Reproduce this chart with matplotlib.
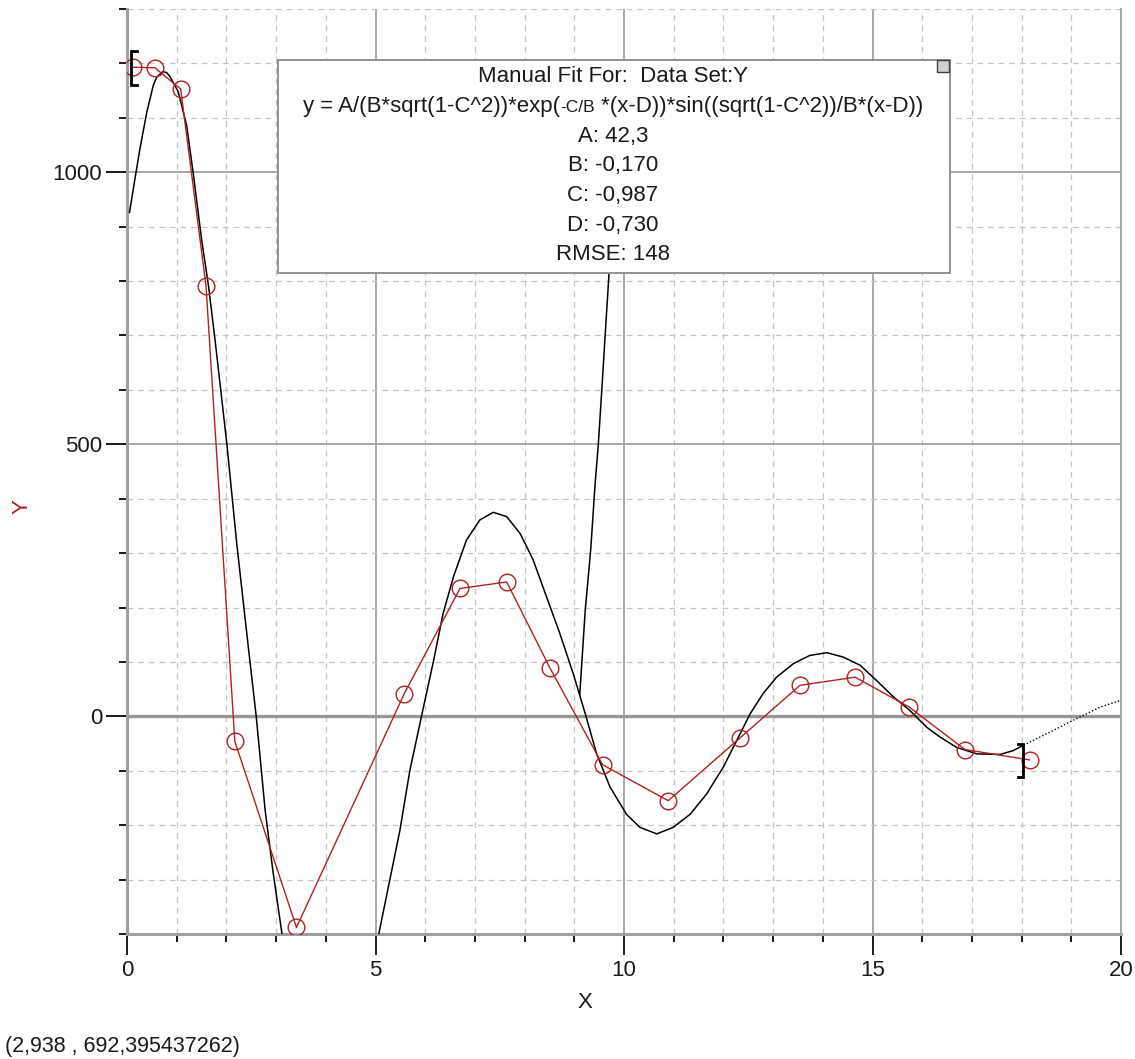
import numpy as np
import matplotlib
matplotlib.use("Agg")
import matplotlib.pyplot as plt
from matplotlib.patches import Rectangle
from matplotlib.ticker import MultipleLocator, FixedLocator
from matplotlib import font_manager

# ---------------- data ----------------
data_x = [0.13, 0.56, 1.08, 1.59, 2.17, 3.41, 5.58, 6.70, 7.64, 8.51, 9.57,
          10.89, 12.33, 13.54, 14.65, 15.74, 16.86, 18.16]
data_y = [1193, 1192, 1153, 791, -46, -388, 42, 235, 247, 89, -89,
          -155, -40, 57, 72, 17, -61, -80]

fit_x = [0.05, 0.16, 0.26, 0.40, 0.53, 0.60, 0.72, 0.80, 0.87, 1.03, 1.20, 1.33, 1.50,
         1.64, 1.77, 2.01, 2.21, 2.44, 2.60, 2.78, 2.94, 3.13, np.nan,
         5.05, 5.49, 5.69, 5.93, 6.17, 6.36, 6.57, 6.83, 7.10, 7.37, 7.64,
         7.91, 8.17, 8.44, 8.71, 8.98, 9.22, 9.45, 9.72, 10.05, 10.32, 10.66,
         10.99, 11.33, 11.66, 12.00, 12.27, 12.54, 12.80, 13.07, 13.41, 13.74,
         14.08, 14.41, 14.75, 15.08, 15.42, 15.75, 16.09, 16.36, 16.69, 17.10,
         17.57, 17.83, 18.04]
fit_y = [926, 988, 1043, 1111, 1160, 1175, 1185, 1183, 1175, 1148, 1086, 1000, 877,
         791, 693, 500, 316, 128, 0, -173, -287, -407, np.nan,
         -407, -210, -100, 2, 103, 189, 257, 324, 361, 375, 367,
         336, 288, 220, 152, 78, 5, -69, -130, -180, -204, -216,
         -204, -180, -143, -93, -44, 5, 42, 72, 97, 112,
         117, 109, 94, 66, 36, 11, -20, -38, -57, -69,
         -70, -63, -53]

branch_x = [9.11, 9.22, 9.33, 9.42, 9.48, 9.55, 9.62, 9.70, 9.78]
branch_y = [40, 195, 306, 429, 496, 595, 699, 816, 920]

ext_x = [18.04, 18.57, 19.04, 19.58, 19.98]
ext_y = [-53, -29, -7, 17, 29]

bracket_x = [0.09, 18.03]
bracket_y = [1192, -81]

x_ticks = [0, 5, 10, 15, 20]
x_ticklabels = ["0", "5", "10", "15", "20"]
y_ticks = [0, 500, 1000]
y_ticklabels = ["0", "500", "1000"]

box_lines = ["Manual Fit For:  Data Set:Y", None, "A: 42,3", "B: -0,170",
             "C: -0,987", "D: -0,730", "RMSE: 148"]
formula_parts = ["y = A/(B*sqrt(1-C^2))*exp(", "-C/B", " *(x-D))*sin((sqrt(1-C^2))/B*(x-D))"]
status_text = "(2,938 , 692,395437262)"

# ---------------- style ----------------
names = {f.name for f in font_manager.fontManager.ttflist}
if "Liberation Sans Narrow" in names:
    FONT = ["Liberation Sans Narrow", "DejaVu Sans"]
    FS = 17
else:
    FONT = ["Liberation Sans", "DejaVu Sans"]
    FS = 16
plt.rcParams["font.family"] = FONT

RED = "#b22020"
INK = "#1a1a1a"
W, H = 1135, 1059
fig = plt.figure(figsize=(W / 100, H / 100), dpi=100)
fig.patch.set_facecolor("white")

px_l, px_r, px_t, px_b = 127, 1121, 9, 934
ax = fig.add_axes([px_l / W, 1 - px_b / H, (px_r - px_l) / W, (px_b - px_t) / H])
ax.set_xlim(0, 20)
ax.set_ylim(-400, 1300)

ax.xaxis.set_major_locator(FixedLocator(x_ticks))
ax.set_xticklabels(x_ticklabels)
ax.yaxis.set_major_locator(FixedLocator(y_ticks))
ax.set_yticklabels(y_ticklabels)
ax.xaxis.set_minor_locator(MultipleLocator(1))
ax.yaxis.set_minor_locator(MultipleLocator(100))

ax.grid(which="major", color="#a8a8a8", lw=1.4, ls="-", zorder=0)
ax.grid(which="minor", color="#c4c4c4", lw=0.9, ls=(0, (4.5, 4.0)), zorder=0)
ax.set_axisbelow(True)
ax.axhline(0, color="#969696", lw=2.4, zorder=1)

ax.spines["top"].set_visible(False)
ax.spines["left"].set_color("#a0a0a0")
ax.spines["left"].set_linewidth(2.2)
ax.spines["bottom"].set_color("#a0a0a0")
ax.spines["bottom"].set_linewidth(2.2)
ax.spines["right"].set_color("#a8a8a8")
ax.spines["right"].set_linewidth(1.4)

ax.tick_params(which="major", direction="out", length=15, width=1.4,
               color=INK, labelsize=FS, labelcolor=INK)
ax.tick_params(axis="x", which="major", pad=4)
ax.tick_params(axis="y", which="major", pad=3)
ax.tick_params(which="minor", direction="out", length=6, width=1.4, color=INK)

# fit curve
ax.plot(fit_x, fit_y, color="black", lw=1.1, zorder=3, solid_joinstyle="round")
ax.plot(branch_x, branch_y, color="black", lw=1.1, zorder=3)
ax.plot(ext_x, ext_y, color="black", lw=1.0, ls=(0, (1, 1.5)), zorder=3)

# data
ax.plot(data_x, data_y, color=RED, lw=1.0, marker="o", ms=12, mfc="none",
        mec=RED, mew=1.0, zorder=4)

# brackets
arm = 0.11
half = 31
for i, bx in enumerate(bracket_x):
    by = bracket_y[i]
    d = arm if i == 0 else -arm
    ax.plot([bx + d, bx, bx, bx + d], [by + half, by + half, by - half, by - half],
            color="black", lw=2.0, solid_joinstyle="miter", zorder=5, clip_on=False)

fig.text(585 / W, 1 - 1008 / H, "X", fontsize=FS, color=INK,
         ha="center", va="baseline")
fig.text(22 / W, 1 - 507 / H, "Y", fontsize=FS, color=RED, rotation=90,
         ha="center", va="center")

# fit box
bx0, bx1, by0, by1 = 278, 950, 60, 273
fig.patches.append(Rectangle((bx0 / W, 1 - by1 / H), (bx1 - bx0) / W, (by1 - by0) / H,
                             transform=fig.transFigure, facecolor="white",
                             edgecolor="#8a8a8a", lw=1.3, zorder=10))
fig.patches.append(Rectangle((937 / W, 1 - 72 / H), 12 / W, 12 / H,
                             transform=fig.transFigure, facecolor="#d0d0d0",
                             edgecolor="#404040", lw=1.0, zorder=11))
cx = 613
baselines = [82, 112, 142, 171.5, 201, 230.5, 260]
for line, bl in zip(box_lines, baselines):
    if line is None:
        continue
    fig.text(cx / W, 1 - bl / H, line, fontsize=FS, color=INK,
             ha="center", va="baseline", zorder=12)

# formula line with smaller "-C/B"
renderer = fig.canvas.get_renderer()
sizes = [FS, FS * 0.78, FS]
widths = []
for p, s in zip(formula_parts, sizes):
    t = fig.text(0, 0, p, fontsize=s)
    widths.append(t.get_window_extent(renderer).width)
    t.remove()
x0 = cx - sum(widths) / 2
for p, s, wd in zip(formula_parts, sizes, widths):
    fig.text(x0 / W, 1 - baselines[1] / H, p, fontsize=s, color=INK,
             ha="left", va="baseline", zorder=12)
    x0 += wd

fig.text(5 / W, 1 - 1052 / H, status_text, fontsize=15.5, color=INK,
         ha="left", va="baseline")

fig.savefig("out.png", dpi=100)
